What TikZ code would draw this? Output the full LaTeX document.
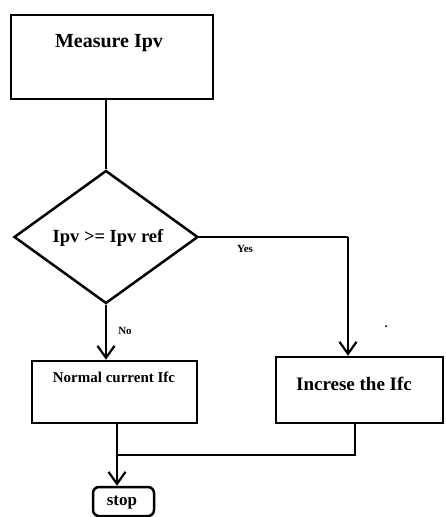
\documentclass[tikz,border=0pt]{standalone}
\usepackage{fontspec}
\setmainfont{Liberation Serif}
\usetikzlibrary{shapes.geometric,arrows.meta}
\begin{document}
\begin{tikzpicture}[x=1pt,y=-1pt,
  line width=2.5pt,
  box/.style={draw=black,rectangle,inner sep=0pt,line width=2.5pt},
  lbl/.style={inner sep=0pt,font=\bfseries},
  arr/.style={-{Straight Barb[length=12pt,width=17pt,line width=2.2pt]}},
  conn/.style={line width=2.5pt}]
\useasboundingbox[fill=white] (0,0) rectangle (445,517);
% boxes
\node[box,minimum width=202pt,minimum height=84pt] (measure) at (112,57) {};
\node[draw=black,diamond,inner sep=0pt,line width=2.5pt,minimum width=184pt,minimum height=133pt] (dia) at (106,237) {};
\node[box,minimum width=165pt,minimum height=62pt] (normal) at (114.5,392) {};
\node[box,minimum width=167pt,minimum height=66pt] (inc) at (359.5,390) {};
\node[box,rounded corners=6pt,minimum width=61pt,minimum height=29pt] (stop) at (123.5,501.5) {};
% texts
\node[lbl,font=\bfseries\fontsize{20}{22}\selectfont] (tmeasure) at (109,43) {Measure Ipv};
\node[lbl,font=\bfseries\fontsize{18.5}{20}\selectfont] (tdia) at (108,238) {Ipv >= Ipv ref};
\node[lbl,font=\bfseries\fontsize{15}{17}\selectfont] (tnormal) at (114,377) {Normal current Ifc};
\node[lbl,font=\bfseries\fontsize{19}{21}\selectfont] (tinc) at (354,384) {Increse the Ifc};
\node[lbl,font=\bfseries\fontsize{17}{19}\selectfont] (tstop) at (122,503) {stop};
\node[lbl,font=\bfseries\fontsize{11}{12}\selectfont] (tyes) at (245,249) {Yes};
\node[lbl,font=\bfseries\fontsize{11}{12}\selectfont] (tno) at (125,331) {No};
\node[lbl,font=\bfseries\fontsize{12}{12}\selectfont] (tdot) at (386,327) {.};
% connectors
\coordinate (yturn) at (348,237);
\coordinate (join) at (117,455);
\coordinate (jr) at (355,455);
\draw[conn] (dia.north |- measure.south) -- (dia.north);
\draw[conn,arr] (dia.south) -- (dia.south |- normal.north);
\draw[conn] (dia.east) -- (yturn);
\draw[conn,arr] (yturn) -- (yturn |- inc.north);
\draw[conn] (join |- normal.south) -- (join);
\draw[conn] (jr |- inc.south) -- (jr) -- (join);
\draw[conn,arr] (join) -- (join |- stop.north);
\end{tikzpicture}
\end{document}
